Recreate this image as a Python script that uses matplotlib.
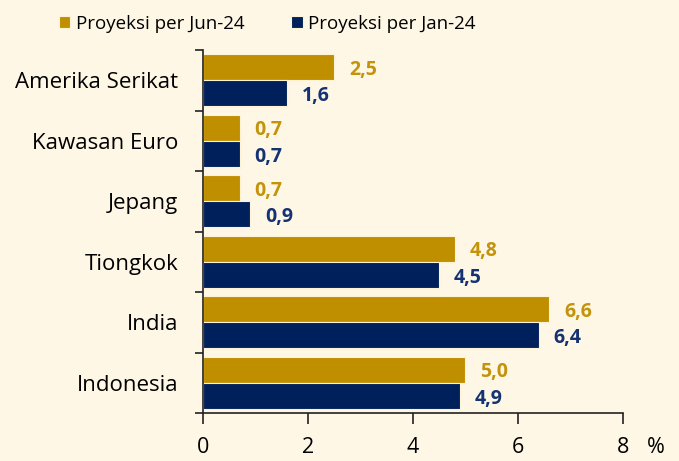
import numpy as np
import matplotlib.pyplot as plt

negara = ["Amerika Serikat", "Kawasan Euro", "Jepang", "Tiongkok", "India", "Indonesia"]
proyeksi_jun24 = [2.5, 0.7, 0.7, 4.8, 6.6, 5.0]
proyeksi_jan24 = [1.6, 0.7, 0.9, 4.5, 6.4, 4.9]
x_ticks = [0, 2, 4, 6, 8]

bg = "#FEF7E6"
gold = "#C08F00"
navy = "#00205B"
gold_txt = "#C3930A"
navy_txt = "#153272"

plt.rcParams["font.family"] = ["Open Sans", "DejaVu Sans"]

fig = plt.figure(figsize=(6.79, 4.61), dpi=100, facecolor=bg)
ax = fig.add_axes([0.299, 0.104, 0.6185, 0.7875], facecolor=bg)

y = np.arange(len(negara))
h = 0.43
ax.barh(y - h / 2, proyeksi_jun24, height=h, color=gold, edgecolor="#FFF3D6", linewidth=0.8,
        label="Proyeksi per Jun-24")
ax.barh(y + h / 2, proyeksi_jan24, height=h, color=navy, edgecolor="#FFF3D6", linewidth=0.8,
        label="Proyeksi per Jan-24")

for i in range(len(negara)):
    ax.text(proyeksi_jun24[i] + 0.28, y[i] - h / 2 + 0.04, f"{proyeksi_jun24[i]:.1f}".replace(".", ","),
            color=gold_txt, fontsize=14, fontweight="bold", va="center", ha="left")
    ax.text(proyeksi_jan24[i] + 0.28, y[i] + h / 2 + 0.05, f"{proyeksi_jan24[i]:.1f}".replace(".", ","),
            color=navy_txt, fontsize=14, fontweight="bold", va="center", ha="left")

ax.set_ylim(len(negara) - 0.5, -0.5)
ax.set_xlim(0, 8)
ax.set_xticks(x_ticks)
ax.set_xticklabels([str(t) for t in x_ticks], fontsize=15.5)
ax.set_yticks(y)
ax.set_yticklabels(negara, fontsize=16)
ax.set_yticks(np.arange(len(negara) + 1) - 0.5, minor=True)
ax.tick_params(axis="y", which="major", length=0, pad=18)
ax.tick_params(axis="y", which="minor", length=6, width=1.2, color="#222222")
ax.tick_params(axis="x", length=8, width=1.2, color="#222222", pad=9)

for s in ["top", "right"]:
    ax.spines[s].set_visible(False)
for s in ["left", "bottom"]:
    ax.spines[s].set_linewidth(1.2)
    ax.spines[s].set_color("#222222")

fig.text(0.966, 0.03, "%", fontsize=15.5, ha="center", va="center")

leg = fig.legend(loc="upper left", bbox_to_anchor=(0.087, 0.968), ncol=2, frameon=False,
                 fontsize=13.5, handlelength=0.6, handleheight=0.6, handletextpad=0.3,
                 columnspacing=2.5, borderaxespad=0, borderpad=0)

fig.savefig("out.png", dpi=100, facecolor=bg)
